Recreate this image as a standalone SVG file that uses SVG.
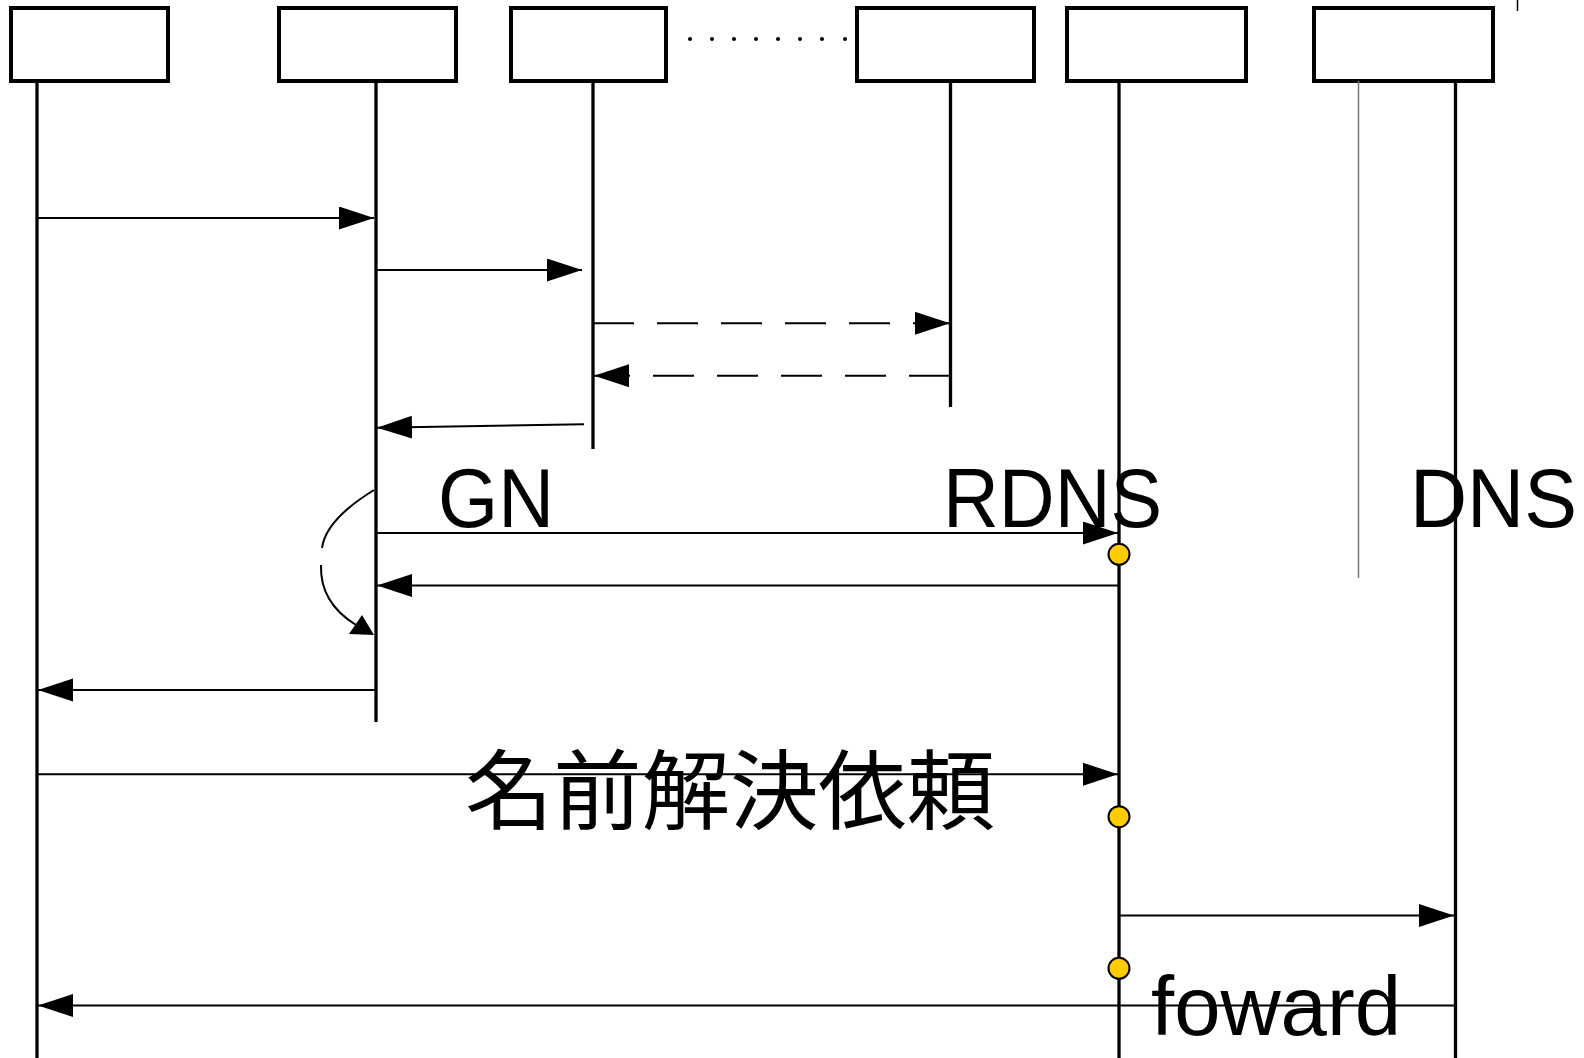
<svg xmlns="http://www.w3.org/2000/svg" width="1584" height="1058" viewBox="0 0 1584 1058">
<style>
.box{fill:#fff;stroke:#000;stroke-width:4}
.life{stroke:#000;stroke-width:3.3;fill:none}
.msg{stroke:#000;stroke-width:2;fill:none;marker-end:url(#ah)}
.dash{stroke-dasharray:41 23}
.lbl{font-family:"Liberation Sans",Arial,sans-serif;font-size:83px;fill:#000}
.jp{font-family:"Noto Sans CJK JP","Noto Sans CJK SC",sans-serif;font-size:87px;fill:#000}
.act{fill:#FFCC00;stroke:#000;stroke-width:2}
</style>
<defs>
<marker id="ah" markerUnits="userSpaceOnUse" markerWidth="36" markerHeight="24" refX="35" refY="11.5" orient="auto">
<path d="M0,0 L35,11.5 L0,23 z" fill="#000"/>
</marker>
</defs>
<g id="node-1"><rect class="box" x="11" y="8" width="157" height="73"/><line class="life" x1="37" y1="81" x2="37" y2="1058"/></g>
<g id="node-2"><rect class="box" x="279" y="8" width="177" height="73"/><line class="life" x1="376" y1="81" x2="376" y2="722"/></g>
<g id="node-3"><rect class="box" x="511" y="8" width="155" height="73"/><line class="life" x1="593" y1="81" x2="593" y2="449"/></g>
<g id="node-4"><rect class="box" x="857" y="8" width="177" height="73"/><line class="life" x1="950.5" y1="81" x2="950.5" y2="407"/></g>
<g id="node-5"><rect class="box" x="1067" y="8" width="179" height="73"/><line class="life" x1="1119" y1="81" x2="1119" y2="1058"/></g>
<g id="node-6"><rect class="box" x="1314" y="8" width="179" height="73"/><line x1="1358.5" y1="81" x2="1358.5" y2="578" stroke="#777" stroke-width="1.5"/><line class="life" x1="1455.5" y1="81" x2="1455.5" y2="1058"/></g>
<g id="ellipsis" fill="#000">
<circle cx="690" cy="39" r="2"/><circle cx="712" cy="39" r="2"/><circle cx="734" cy="39" r="2"/><circle cx="756" cy="39" r="2"/><circle cx="778" cy="39" r="2"/><circle cx="800" cy="39" r="2"/><circle cx="822" cy="39" r="2"/><circle cx="845" cy="39" r="2"/>
</g>
<line x1="1517.5" y1="0" x2="1517.5" y2="11" stroke="#000" stroke-width="1.5"/>
<g id="labels">
<text class="lbl" x="438" y="527" textLength="116" lengthAdjust="spacingAndGlyphs">GN</text>
<text class="lbl" x="943" y="527" textLength="219" lengthAdjust="spacingAndGlyphs">RDNS</text>
<text class="lbl" x="1410" y="527" textLength="167" lengthAdjust="spacingAndGlyphs">DNS</text>
<text class="jp" x="465" y="823" textLength="530" lengthAdjust="spacingAndGlyphs">名前解決依頼</text>
<text class="lbl" x="1151" y="1035" textLength="250" lengthAdjust="spacingAndGlyphs">foward</text>
</g>
<g id="connectors">
<line class="msg" x1="37" y1="218" x2="374" y2="218"/>
<line class="msg" x1="376" y1="270" x2="582" y2="270"/>
<line class="msg dash" x1="593" y1="323.3" x2="950" y2="323.3"/>
<line class="msg dash" x1="950" y1="375.7" x2="594" y2="375.7"/>
<line class="msg" x1="584" y1="424.3" x2="377" y2="427.7"/>
<line class="msg" x1="376" y1="533" x2="1118" y2="533"/>
<line class="msg" x1="1119" y1="585.5" x2="377" y2="585.5"/>
<line class="msg" x1="376" y1="690" x2="38" y2="690"/>
<line class="msg" x1="37" y1="774.3" x2="1118" y2="774.3"/>
<line class="msg" x1="1119" y1="915.5" x2="1454" y2="915.5"/>
<line class="msg" x1="1455" y1="1005.5" x2="38" y2="1005.5"/>
<path d="M374,490 C348,506 325,525 322,548" stroke="#000" stroke-width="2" fill="none"/>
<path d="M321,565 C320,593 335,612 356,625" stroke="#000" stroke-width="2" fill="none"/>
<polygon points="374,635 349,634 362,615" fill="#000"/>
</g>
<g id="activations">
<circle class="act" cx="1119" cy="554.3" r="10.5"/>
<circle class="act" cx="1119" cy="816.7" r="10.5"/>
<circle class="act" cx="1119" cy="968.3" r="10.5"/>
</g>
</svg>
